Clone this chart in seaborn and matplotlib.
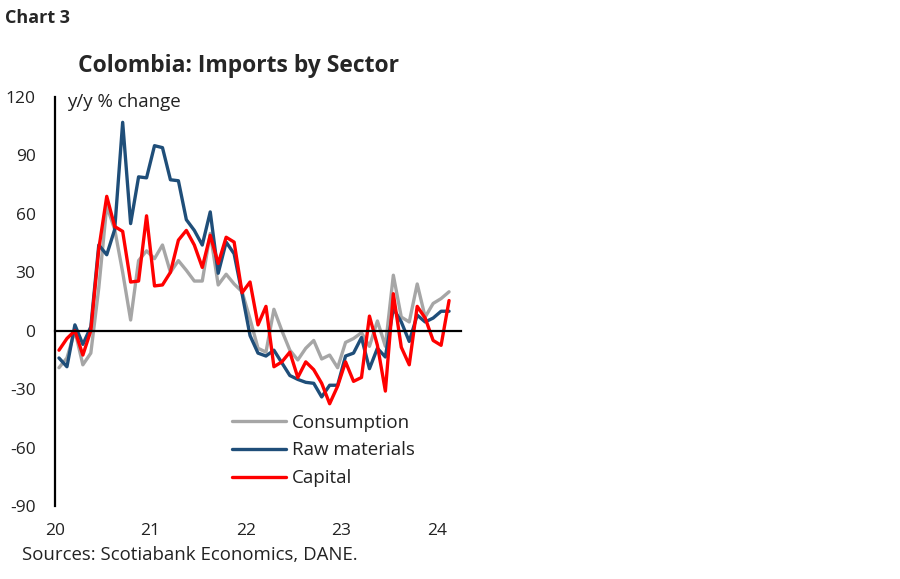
import pandas as pd
import matplotlib.pyplot as plt
import seaborn as sns

# Monthly y/y % change, Jan 2020 - Feb 2024
months = pd.date_range("2020-01-01", "2024-02-01", freq="MS")

consumption = [-19, -14, 0, -17.5, -11.5, 22, 64, 52, 30, 5.5,
               36, 41, 37, 44, 30, 36, 31, 25.5, 25.5, 50,
               23.5, 29, 24, 20, 6, -9, -11, 11, 0, -10,
               -15, -9, -5, -14.5, -12.5, -19, -6, -4, -1, -8,
               5, -8, 28.5, 7, 4.5, 24, 7, 14, 16.5, 20]

raw_materials = [-14, -18.5, 3, -7, 2, 44, 39, 52, 107, 55,
                 79, 78.5, 95, 94, 77.5, 77, 57, 51.5, 44, 61,
                 29.5, 45.5, 39.5, 19, -2.5, -11.5, -13, -10, -16.5, -23,
                 -25, -26.5, -27, -34, -28, -28, -13, -11.5, -3.5, -19.5,
                 -9, -13.5, 11.5, 4.5, -5.5, 8, 4.5, 6.5, 10, 10]

capital = [-10, -4, 0, -12.5, 0, 42, 69, 53.5, 51, 25,
           25.5, 59, 23, 23.5, 30, 46.5, 51.5, 44, 32.5, 49,
           34.5, 48, 45.5, 19.5, 25, 3, 12.5, -18.5, -16, -11,
           -24, -16, -20, -27, -37.5, -28.5, -16, -26, -24, 7.5,
           -7.5, -31, 19, -8.5, -17.5, 12.5, 6.5, -5, -7.5, 15.5]

sectors = ["Consumption", "Raw materials", "Capital"]
colors = {"Consumption": "#A6A6A6", "Raw materials": "#1F4E79", "Capital": "#FF0000"}

year_labels = ["20", "21", "22", "23", "24"]
y_ticks = [-90, -60, -30, 0, 30, 60, 90, 120]

df = pd.DataFrame({
    "idx": list(range(len(months))) * 3,
    "value": consumption + raw_materials + capital,
    "sector": [s for s in sectors for _ in months],
})

sns.set_style("white")
plt.rcParams["font.family"] = ["Open Sans", "DejaVu Sans"]
plt.rcParams["axes.unicode_minus"] = False

fig = plt.figure(figsize=(9, 5.79), dpi=100)
ax = fig.add_axes([55 / 900, 1 - 506 / 579, 406 / 900, 409 / 579])

sns.lineplot(data=df, x="idx", y="value", hue="sector", hue_order=sectors,
             palette=colors, linewidth=2.4, ax=ax)

ax.set_xlim(-0.5, 50.5)
ax.set_ylim(-90, 120)
ax.set_yticks(y_ticks)
ax.set_xlabel("")
ax.set_ylabel("")

for side in ["top", "right"]:
    ax.spines[side].set_visible(False)
ax.spines["left"].set_linewidth(1.6)
ax.spines["left"].set_color("black")
ax.spines["bottom"].set_position(("data", 0))
ax.spines["bottom"].set_linewidth(1.6)
ax.spines["bottom"].set_color("black")

tick_pos = [-0.5 + 12 * i for i in range(len(year_labels))]
ax.set_xticks(tick_pos)
ax.tick_params(axis="x", direction="out", length=5, width=1.4, labelbottom=False)
ax.tick_params(axis="y", direction="in", length=5, width=1.4, pad=14,
               labelsize=12.5, labelcolor="#222222")

sec = ax.secondary_xaxis("bottom")
sec.set_xticks(tick_pos)
sec.set_xticklabels(year_labels)
sec.spines["bottom"].set_visible(False)
sec.tick_params(length=0, pad=12, labelsize=12.5, labelcolor="#222222")

ax.text(0.03, 0.988, "y/y % change", transform=ax.transAxes, fontsize=13.5,
        color="#222222", va="center", ha="left")

ax.legend(frameon=False, loc="upper left", bbox_to_anchor=(0.436, 0.226),
          fontsize=13.5, handlelength=2.88, handletextpad=0.32, labelspacing=0.52,
          borderpad=0, borderaxespad=0, labelcolor="#222222")

fig.text(238.5 / 900, 1 - 66 / 579, "Colombia: Imports by Sector", fontsize=16.5,
         fontweight="bold", ha="center", va="center")
fig.text(5 / 900, 1 - 18 / 579, "Chart 3", fontsize=13, fontweight="bold",
         ha="left", va="center")
fig.text(22 / 900, 1 - 555 / 579, "Sources: Scotiabank Economics, DANE.",
         fontsize=13.4, color="#222222", ha="left", va="center")

fig.savefig("out.png", dpi=100)
